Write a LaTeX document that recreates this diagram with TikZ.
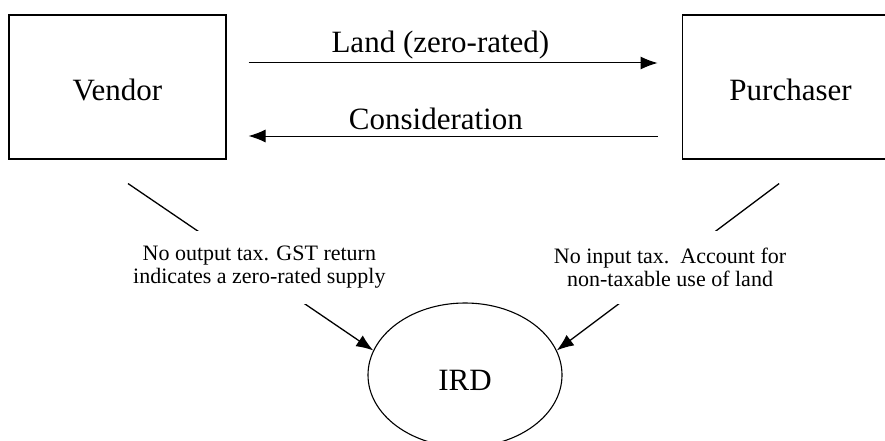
\documentclass[tikz,border=0pt]{standalone}
\usepackage{fontspec}
\setmainfont{Liberation Serif}
\usetikzlibrary{arrows.meta,positioning,shapes.geometric}

\begin{document}
\begin{tikzpicture}[x=1pt,y=-1pt,>={Latex[length=17pt,width=13pt]},node distance=455pt,
  party/.style={draw,line width=1.1pt,minimum width=217pt,minimum height=144pt,inner sep=0pt,font=\fontsize{31}{37}\selectfont,text height=27pt},
  flow/.style={->,line width=1pt},
  flowtext/.style={inner sep=0pt,font=\fontsize{31}{37}\selectfont,text height=22pt,text depth=6pt},
  taxnote/.style={fill=white,inner xsep=2pt,inner ysep=0pt,minimum height=73pt,align=center,font=\fontsize{22}{23}\selectfont}]
\useasboundingbox (0,0) rectangle (885,441);
\clip (0,0) rectangle (885,441);
\node[party] (vendor) at (117.5,87) {Vendor};
\node[party,right=of vendor] (purchaser) {Purchaser};
\node[draw,ellipse,line width=1.1pt,minimum width=194pt,minimum height=144pt,inner sep=0pt,font=\fontsize{31}{37}\selectfont,text height=32pt] (ird) at (465,375) {IRD};
\coordinate (vfoot) at ([shift={(10.5,24)}]vendor.south);
\coordinate (pfoot) at ([shift={(-11.5,24)}]purchaser.south);
% supply and payment
\draw[flow,shorten <=22pt,shorten >=24pt] ([yshift=24pt]vendor.east) -- node[flowtext,pos=.47,above=4pt] {Land (zero-rated)} ([yshift=24pt]purchaser.west);
\draw[flow,shorten <=24pt,shorten >=22pt] ([yshift=-49pt]purchaser.west) -- node[flowtext,pos=.54,above=0pt] {Consideration} ([yshift=-49pt]vendor.east);
% returns to IRD
\draw[flow,line width=1.3pt] (vfoot) -- node[taxnote,pos=.503,xshift=8pt] {No output tax. GST return\\indicates a zero-rated supply} (ird.165);
\draw[flow,line width=1.3pt] (pfoot) -- node[taxnote,pos=.504,xshift=3pt] {No input tax.\ \ Account for\\non-taxable use of land} (ird.15);
\end{tikzpicture}
\end{document}
